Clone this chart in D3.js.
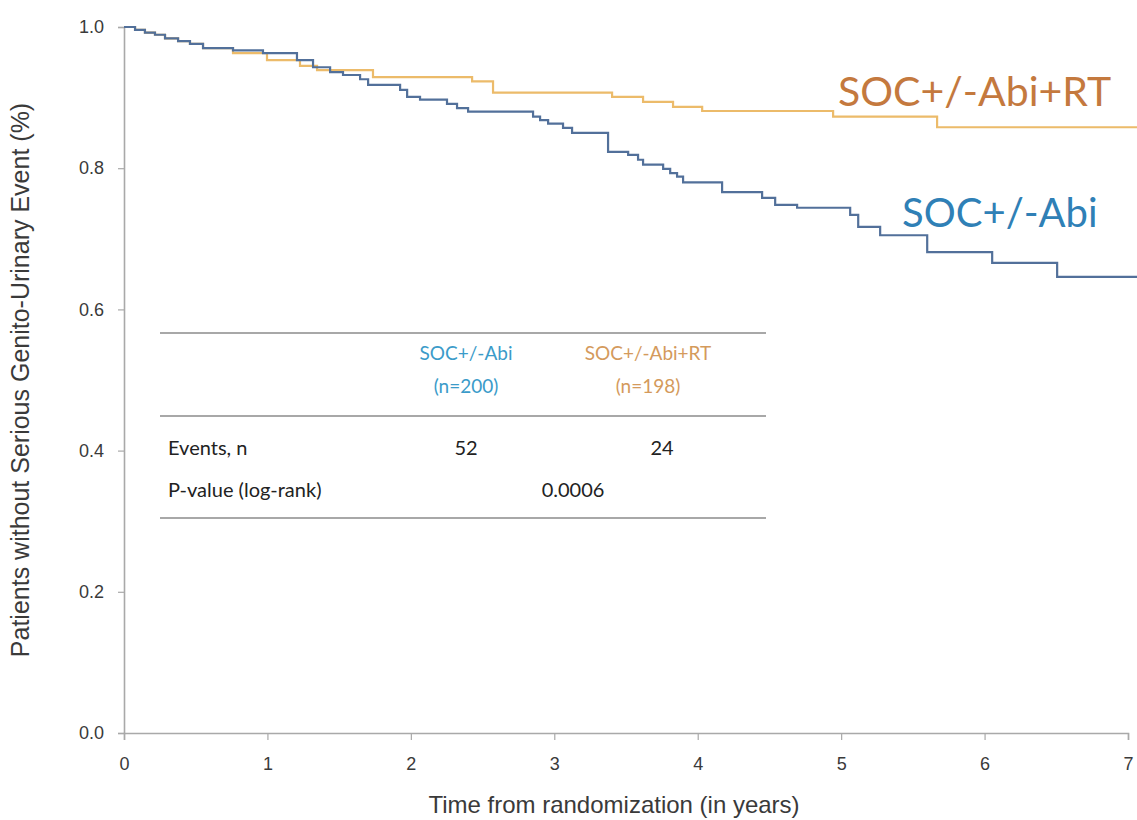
<!DOCTYPE html>
<html>
<head>
<meta charset="utf-8">
<script src="https://cdn.jsdelivr.net/npm/d3@7"></script>
<style>
  body { margin: 0; background: #fff; }
  svg { display: block; }
</style>
</head>
<body>
<div id="chart"></div>
<script>
// KM curve: step times (years) and survival after each step
const abiTimes = [0, 0.077, 0.146, 0.216, 0.286, 0.377, 0.46, 0.551, 0.76, 0.969, 1.206, 1.318, 1.437, 1.527, 1.646, 1.702, 1.925, 1.974, 2.064, 2.252, 2.322, 2.399, 2.852, 2.901, 2.957, 3.061, 3.124, 3.375, 3.515, 3.584, 3.619, 3.759, 3.808, 3.856, 3.898, 4.17, 4.449, 4.54, 4.693, 5.063, 5.119, 5.272, 5.6, 6.053, 6.506, 7.07];
const abiSurv  = [1, 0.996, 0.992, 0.989, 0.984, 0.98, 0.976, 0.97, 0.967, 0.963, 0.953, 0.943, 0.936, 0.932, 0.926, 0.918, 0.911, 0.901, 0.897, 0.891, 0.885, 0.88, 0.873, 0.868, 0.863, 0.857, 0.85, 0.823, 0.819, 0.812, 0.805, 0.799, 0.793, 0.788, 0.78, 0.766, 0.758, 0.748, 0.744, 0.734, 0.717, 0.705, 0.681, 0.666, 0.646, 0.646];

const rtTimes = [0, 0.077, 0.146, 0.216, 0.286, 0.377, 0.46, 0.551, 0.76, 0.997, 1.227, 1.346, 1.736, 2.427, 2.573, 3.403, 3.619, 3.828, 4.031, 4.944, 5.669, 7.07];
const rtSurv  = [1, 0.996, 0.992, 0.989, 0.984, 0.98, 0.976, 0.97, 0.963, 0.953, 0.945, 0.939, 0.929, 0.923, 0.907, 0.901, 0.894, 0.887, 0.881, 0.873, 0.858, 0.858];

const xTicks = [0, 1, 2, 3, 4, 5, 6, 7];
const yTicks = [0, 0.2, 0.4, 0.6, 0.8, 1.0];

const tableHeader = [["SOC+/-Abi", "(n=200)"], ["SOC+/-Abi+RT", "(n=198)"]];
const tableRows = ["Events, n", "P-value (log-rank)"];
const eventCounts = ["52", "24"];
const pValue = "0.0006";

const width = 1137, height = 820;
const svg = d3.select('#chart').append('svg')
    .attr('width', width)
    .attr('height', height);

const x = d3.scaleLinear().domain([0, 7]).range([124, 1128]);
const y = d3.scaleLinear().domain([0, 1]).range([733, 27]);

const axisColor = '#a9a9a9';
const tickFont = '"Liberation Sans", Arial, sans-serif';

// axes
const yAxis = svg.append('g')
    .attr('transform', `translate(${x(0)},0)`)
    .call(d3.axisLeft(y).tickValues(yTicks).tickFormat(d3.format('.1f')).tickSize(6).tickPadding(14));
const xAxis = svg.append('g')
    .attr('transform', `translate(0,${y(0)})`)
    .call(d3.axisBottom(x).tickValues(xTicks).tickFormat(d3.format('d')).tickSize(7).tickPadding(17));

[xAxis, yAxis].forEach(g => {
    g.select('.domain').attr('stroke', axisColor).attr('stroke-width', 1.6);
    g.selectAll('.tick line').attr('stroke', axisColor).attr('stroke-width', 1.2);
    g.selectAll('.tick text')
        .attr('fill', '#3a3a3a')
        .style('font-family', tickFont)
        .style('font-size', '18px');
});

svg.append('text')
    .attr('x', 614)
    .attr('y', 813)
    .attr('text-anchor', 'middle')
    .style('font-family', tickFont)
    .style('font-size', '24px')
    .attr('fill', '#3a3a3a')
    .text('Time from randomization (in years)');

svg.append('text')
    .attr('transform', 'translate(29,380) rotate(-90)')
    .attr('text-anchor', 'middle')
    .style('font-family', tickFont)
    .style('font-size', '25px')
    .attr('fill', '#3a3a3a')
    .text('Patients without Serious Genito-Urinary Event (%)');

// curves
const line = d3.line()
    .x(d => x(d[0]))
    .y(d => y(d[1]))
    .curve(d3.curveStepAfter);

svg.append('path')
    .datum(d3.zip(rtTimes, rtSurv))
    .attr('d', line)
    .attr('fill', 'none')
    .attr('stroke', '#ecbb6a')
    .attr('stroke-width', 2.2);

svg.append('path')
    .datum(d3.zip(abiTimes, abiSurv))
    .attr('d', line)
    .attr('fill', 'none')
    .attr('stroke', '#52709a')
    .attr('stroke-width', 2.2);

// curve labels
const labelFont = 'Lato, "Open Sans", sans-serif';
svg.append('text')
    .attr('x', 838).attr('y', 106)
    .style('font-family', labelFont)
    .style('font-size', '41px')
    .attr('fill', '#c4793e')
    .text('SOC+/-Abi+RT');
svg.append('text')
    .attr('x', 902).attr('y', 227)
    .style('font-family', labelFont)
    .style('font-size', '40px')
    .attr('fill', '#2f80b6')
    .text('SOC+/-Abi');

// inset table
const tbl = svg.append('g');
const tblX0 = 160, tblX1 = 766;
[333, 416, 518].forEach(yy => {
    tbl.append('line')
        .attr('x1', tblX0).attr('x2', tblX1)
        .attr('y1', yy).attr('y2', yy)
        .attr('stroke', '#a8a8a8')
        .attr('stroke-width', 2);
});

const colX = [466, 648];
const headColors = ['#3b9bc9', '#d49a5c'];
tableHeader.forEach((h, i) => {
    h.forEach((t, j) => {
        tbl.append('text')
            .attr('x', colX[i]).attr('y', 360 + j * 33)
            .attr('text-anchor', 'middle')
            .style('font-family', labelFont)
            .style('font-size', '19px')
            .attr('fill', headColors[i])
            .text(t);
    });
});

tableRows.forEach((t, i) => {
    tbl.append('text')
        .attr('x', 168).attr('y', 455 + i * 42)
        .style('font-family', labelFont)
        .style('font-size', '20px')
        .attr('fill', '#222')
        .text(t);
});

eventCounts.forEach((t, i) => {
    tbl.append('text')
        .attr('x', [466, 662][i]).attr('y', 455)
        .attr('text-anchor', 'middle')
        .style('font-family', labelFont)
        .style('font-size', '20px')
        .attr('fill', '#222')
        .text(t);
});

tbl.append('text')
    .attr('x', 573).attr('y', 497)
    .attr('text-anchor', 'middle')
    .style('font-family', labelFont)
    .style('font-size', '20px')
    .attr('fill', '#222')
    .text(pValue);
</script>
</body>
</html>
